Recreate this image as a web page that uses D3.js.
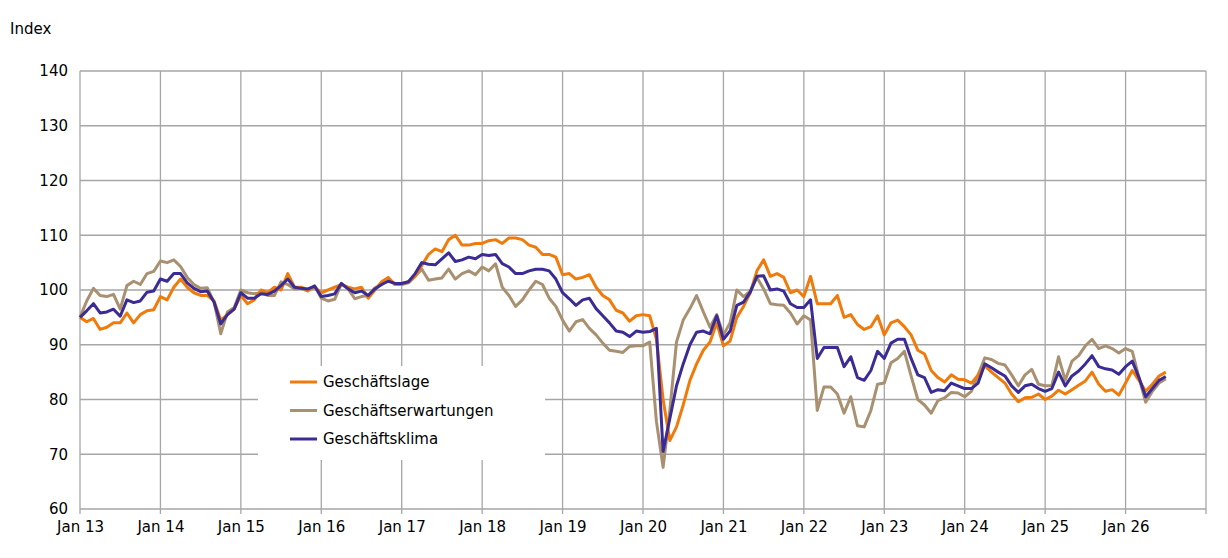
<!DOCTYPE html>
<html><head><meta charset="utf-8">
<script src="https://cdn.jsdelivr.net/npm/d3@7"></script>
<style>body{margin:0;background:#fff}</style>
</head><body><div id="chart"></div>
<script>
const years = d3.range(13, 27);
const yTicks = [60, 70, 80, 90, 100, 110, 120, 130, 140];
const lage = [
  95, 94.2, 94.8, 92.8, 93.2, 94, 94, 95.8, 94, 95.5, 96.2, 96.4,
  98.8, 98.2, 100.5, 102, 100.5, 99.5, 99, 99, 98, 94.5, 95.5, 96.5,
  99, 97.5, 98.2, 100, 99.5, 100.5, 100, 103, 100.5, 100.5, 100, 100.5,
  99.5, 100, 100.5, 101, 100.5, 100.2, 100.5, 98.5, 100, 101.5, 102.3, 101,
  101.2, 101.5, 102.5, 104.5, 106.5, 107.5, 107, 109.2, 110, 108.2, 108.2, 108.5,
  108.5, 109, 109.2, 108.5, 109.5, 109.5, 109.2, 108.2, 107.8, 106.5, 106.5, 106,
  102.8, 103, 102, 102.3, 102.8, 100.5, 99, 98.2, 96.3, 95.8, 94.3, 95.3,
  95.5, 95.3, 91, 80, 72.5, 75, 79, 83.5, 86.5, 89, 90.5, 94,
  89.8, 90.7, 95, 97, 99.5, 103.5, 105.5, 102.5, 103, 102.3, 99.5, 100,
  98.8, 102.5, 97.5, 97.5, 97.5, 99, 95, 95.5, 93.7, 92.8, 93.3, 95.3,
  91.8, 94, 94.5, 93.3, 91.8, 89, 88.3, 85.3, 84, 83.2, 84.5, 83.7,
  83.6, 83, 84.5, 86.2, 85, 84, 83, 81, 79.6, 80.3, 80.4, 81,
  80, 80.6, 81.7, 81, 81.8, 82.6, 83.4, 85, 82.8, 81.5, 81.8, 80.8,
  83, 85.3, 83.5, 81.5, 82.8, 84.3, 85
];
const erwartungen = [
  95, 98, 100.3, 99, 98.8, 99.2, 96.5, 100.8, 101.6, 101, 103, 103.4,
  105.3, 105, 105.5, 104.3, 102.3, 101, 100.3, 100.4, 97.8, 92, 96, 96.8,
  100, 99.5, 99.3, 99.5, 99, 99, 101.5, 101, 100.2, 100.3, 99.8, 100.8,
  98.5, 98, 98.3, 101.1, 100.2, 98.4, 98.8, 99, 100.4, 101, 102, 101,
  101, 101.3, 102.5, 103.8, 101.8, 102, 102.2, 103.8, 102, 103, 103.5, 102.8,
  104.2, 103.5, 104.8, 100.5, 99, 97, 98.2, 100, 101.6, 101, 98.5, 97,
  94.5, 92.5, 94.2, 94.6, 93, 91.8, 90.3, 89, 88.8, 88.6, 89.7, 89.8,
  89.8, 90.5, 76, 67.6, 78, 90.5, 94.5, 96.6, 99, 96, 93.2, 95.5,
  91.8, 94, 100, 98.8, 99.8, 102.3, 100.2, 97.5, 97.3, 97.2, 95.8, 93.8,
  95.3, 94.5, 78, 82.3, 82.3, 81, 77.5, 80.5, 75.2, 75, 78, 82.8,
  83, 86.7, 87.5, 88.8, 84.3, 80, 79, 77.5, 79.8, 80.3, 81.3, 81.2,
  80.5, 81.5, 84.5, 87.6, 87.3, 86.6, 86.3, 84.5, 82.5, 84.5, 85.5, 82.8,
  82.5, 82.5, 87.8, 83.5, 87, 88, 89.8, 91, 89.3, 89.8, 89.3, 88.5,
  89.3, 88.8, 84, 79.5, 81.5, 83, 83.8
];
const klima = [
  95, 96.2, 97.5, 95.8, 96, 96.5, 95.2, 98.2, 97.7, 98, 99.6, 99.8,
  102, 101.6, 103, 103, 101.3, 100.3, 99.7, 99.8, 97.8, 93.8, 95.5, 96.5,
  99.5, 98.5, 98.5, 99.3, 99.2, 99.8, 100.8, 102, 100.5, 100.3, 100.2, 100.7,
  98.8, 99, 99.3, 101.2, 100.2, 99.5, 99.8, 99, 100.2, 101, 101.6, 101.2,
  101.2, 101.5, 103, 105, 104.7, 104.6, 105.7, 106.8, 105.2, 105.5, 106, 105.7,
  106.5, 106.3, 106.5, 104.8, 104.2, 103, 103, 103.5, 103.8, 103.8, 103.5, 102,
  99.5, 98.4, 97.2, 98.2, 98.5, 96.6, 95.3, 94, 92.5, 92.3, 91.5, 92.5,
  92.3, 92.4, 93, 70.5, 76.5, 82.5, 86.5, 90, 92.3, 92.5, 92, 95.3,
  91, 92.5, 97.2, 97.8, 99.6, 102.5, 102.6, 100, 100.2, 99.8, 97.5, 96.8,
  96.8, 98.2, 87.5, 89.5, 89.5, 89.5, 86, 87.8, 84, 83.5, 85.3, 88.8,
  87.5, 90.3, 91, 91, 87.5, 84.5, 84, 81.3, 81.8, 81.6, 83, 82.5,
  82, 82, 83, 86.5, 85.8, 85, 84.3, 82.5, 81.3, 82.5, 82.8, 82,
  81.5, 82, 85, 82.5, 84.3, 85.2, 86.5, 88, 86, 85.6, 85.4, 84.6,
  86, 87, 84, 80.5, 82, 83.5, 84.2
];
const series = [
  { name: 'Geschäftslage', values: lage, color: '#f07a0a' },
  { name: 'Geschäftserwartungen', values: erwartungen, color: '#a89070' },
  { name: 'Geschäftsklima', values: klima, color: '#3a2c94' }
];

const width = 1228, height = 558;
const margin = { top: 71, right: 22, bottom: 49, left: 80 };
const svg = d3.select('#chart').append('svg').attr('width', width).attr('height', height)
  .style('font-family', 'Verdana, "DejaVu Sans", sans-serif');

const x = d3.scaleLinear().domain([0, 168]).range([margin.left, width - margin.right]);
const y = d3.scaleLinear().domain([60, 140]).range([height - margin.bottom, margin.top]);

// grid
svg.append('g').selectAll('line').data(yTicks).join('line')
  .attr('x1', x(0)).attr('x2', x(168)).attr('y1', d => y(d)).attr('y2', d => y(d))
  .attr('stroke', '#a6a6a6').attr('stroke-width', 1.3);
svg.append('g').selectAll('line').data(d3.range(0, 15)).join('line')
  .attr('x1', d => x(d * 12)).attr('x2', d => x(d * 12))
  .attr('y1', y(140)).attr('y2', y(60) + 5)
  .attr('stroke', '#a6a6a6').attr('stroke-width', 1.3);

const yAxis = svg.append('g').attr('transform', `translate(${margin.left},0)`)
  .call(d3.axisLeft(y).tickValues(yTicks).tickSize(0).tickPadding(12));
yAxis.select('.domain').remove();
yAxis.selectAll('text').attr('font-size', 15).attr('fill', '#000').attr('font-family', 'Verdana, "DejaVu Sans", sans-serif');

const xAxis = svg.append('g').attr('transform', `translate(0,${y(60)})`)
  .call(d3.axisBottom(x).tickValues(years.map((d, i) => i * 12)).tickSize(0).tickPadding(12)
    .tickFormat((d, i) => 'Jan ' + years[i]));
xAxis.select('.domain').remove();
xAxis.selectAll('text').attr('font-size', 15).attr('fill', '#000').attr('font-family', 'Verdana, "DejaVu Sans", sans-serif');

svg.append('text').attr('x', 10).attr('y', 34).attr('font-size', 15).text('Index');

const line = d3.line().x((d, i) => x(i)).y(d => y(d));
svg.append('g').selectAll('path').data([series[1], series[0], series[2]]).join('path')
  .attr('d', d => line(d.values)).attr('fill', 'none')
  .attr('stroke', d => d.color).attr('stroke-width', 3).attr('stroke-linejoin', 'round');

// legend
const lg = svg.append('g').attr('transform', 'translate(258,366)');
lg.append('rect').attr('width', 287).attr('height', 94).attr('fill', '#fff');
series.forEach((s, i) => {
  const yy = 16 + i * 28.5;
  lg.append('line').attr('x1', 32).attr('x2', 59).attr('y1', yy).attr('y2', yy)
    .attr('stroke', s.color).attr('stroke-width', 3);
  lg.append('text').attr('x', 65).attr('y', yy + 5).attr('font-size', 15).text(s.name);
});
</script></body></html>
